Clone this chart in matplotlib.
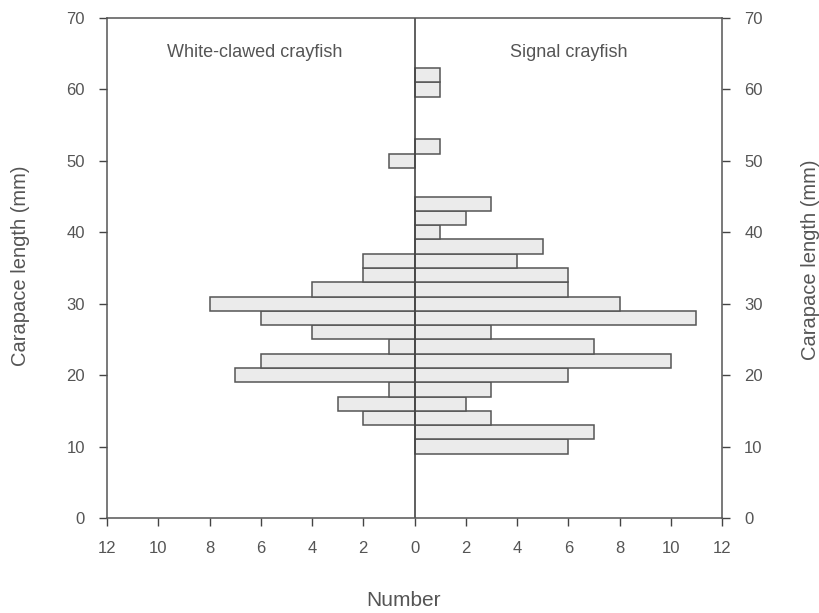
import numpy as np
import matplotlib
matplotlib.use('Agg')
import matplotlib.pyplot as plt

plt.rcParams['font.family'] = ['Liberation Sans', 'DejaVu Sans']

# size classes (bin centres, mm) and counts
lengths = [10, 12, 14, 16, 18, 20, 22, 24, 26, 28, 30, 32, 34, 36, 38, 40, 42, 44, 50, 52, 60, 62]
white = [0, 0, 2, 3, 1, 7, 6, 1, 4, 6, 8, 4, 2, 2, 0, 0, 0, 0, 1, 0, 0, 0]
signal = [6, 7, 3, 2, 3, 6, 10, 7, 3, 11, 8, 6, 6, 4, 5, 1, 2, 3, 0, 1, 1, 1]

xticks = [-12, -10, -8, -6, -4, -2, 0, 2, 4, 6, 8, 10, 12]
xticklabels = ['12', '10', '8', '6', '4', '2', '0', '2', '4', '6', '8', '10', '12']
yticks = [0, 10, 20, 30, 40, 50, 60, 70]

txt = '#555555'
edge = '#555555'
face = '#ebebeb'

fig = plt.figure(figsize=(8.2, 6.13), dpi=100)
ax = fig.add_axes([0.1305, 0.155, 0.75, 0.8156])

w = np.array(white)
s = np.array(signal)
L = np.array(lengths)
ax.barh(L[w > 0], -w[w > 0], height=2, color=face, edgecolor=edge, linewidth=1.1)
ax.barh(L[s > 0], s[s > 0], height=2, color=face, edgecolor=edge, linewidth=1.1)
ax.axvline(0, color='#444444', linewidth=1.2)

ax.set_xlim(-12, 12)
ax.set_ylim(0, 70)
ax.set_xticks(xticks)
ax.set_xticklabels(xticklabels)
ax.set_yticks(yticks)
ax.tick_params(axis='both', direction='out', length=6, width=1, colors='#444444',
               labelcolor=txt, labelsize=12)
ax.tick_params(axis='x', pad=10.5)
ax.tick_params(axis='y', pad=10, right=True, labelright=True)
for sp in ax.spines.values():
    sp.set_color('#555555')
    sp.set_linewidth(1.1)

ax.text(-6.25, 65.2, 'White-clawed crayfish', ha='center', va='center',
        fontsize=13, color=txt)
ax.text(6.0, 65.2, 'Signal crayfish', ha='center', va='center',
        fontsize=13, color=txt)

fig.text(0.4915, 0.021, 'Number', ha='center', va='center', fontsize=15, color=txt)
fig.text(0.0244, 0.566, 'Carapace length (mm)', rotation=90, ha='center', va='center',
         fontsize=14.5, color=txt)
fig.text(0.988, 0.577, 'Carapace length (mm)', rotation=90, ha='center', va='center',
         fontsize=14.5, color=txt)

fig.savefig('out.png', dpi=100, facecolor='white')
